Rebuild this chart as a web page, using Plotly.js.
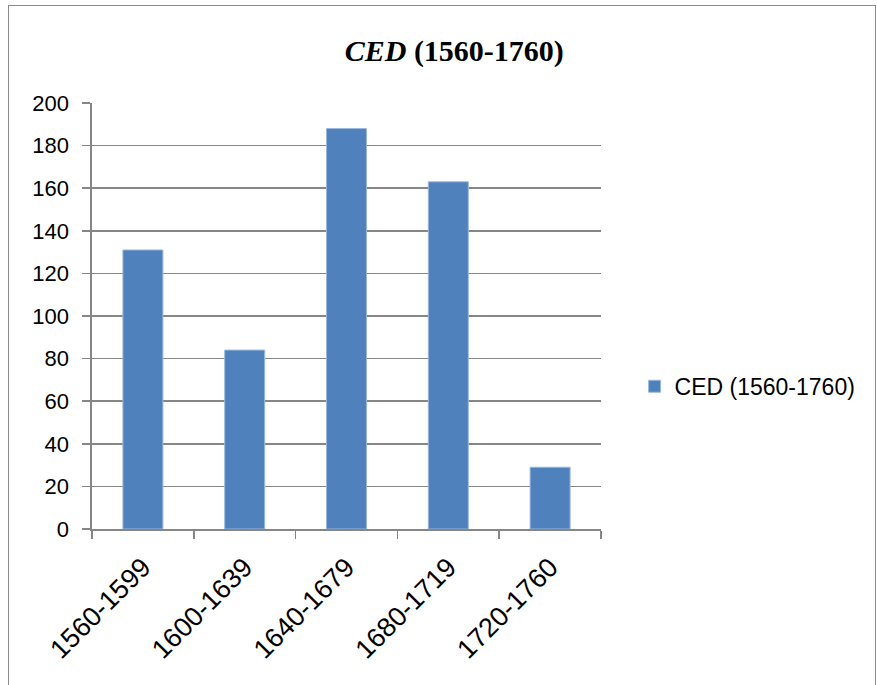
<!DOCTYPE html>
<html>
<head>
<meta charset="utf-8">
<script src="https://cdn.plot.ly/plotly-3.0.1.min.js"></script>
<style>
  html, body { margin: 0; padding: 0; background: #ffffff; }
  #frame { position: absolute; left: 8px; top: 5px; width: 868px; height: 700px; border: 1px solid #8c8c8c; box-sizing: border-box; }
  #chart { position: absolute; left: 0; top: 0; width: 877px; height: 685px; }
</style>
</head>
<body>
<div id="frame"></div>
<div id="chart"></div>
<script>
const categories = ["1560-1599", "1600-1639", "1640-1679", "1680-1719", "1720-1760"];
const seriesName = "CED (1560-1760)";
const values = [131, 84, 188, 163, 29];
const yTickValues = [0, 20, 40, 60, 80, 100, 120, 140, 160, 180, 200];

const axisGray = "#868686";
const sans = "Liberation Sans, Arial, sans-serif";

const trace = {
  type: "bar",
  x: categories,
  y: values,
  name: seriesName,
  marker: { color: "#4F81BD", line: { color: "#9bb8dc", width: 1 } },
  showlegend: true,
  hoverinfo: "x+y"
};

const layout = {
  width: 877,
  height: 685,
  margin: { l: 92, r: 276, t: 103, b: 156, pad: 0 },
  paper_bgcolor: "rgba(0,0,0,0)",
  plot_bgcolor: "rgba(0,0,0,0)",
  bargap: 0.607,
  title: {
    text: "<b><i>CED</i> (1560-1760)</b>",
    font: { family: "Liberation Serif, Times New Roman, serif", size: 30, color: "#000000" },
    x: 0.518, xanchor: "center",
    y: 0.927, yanchor: "middle"
  },
  xaxis: {
    type: "category",
    tickson: "boundaries",
    ticks: "outside",
    ticklen: 8,
    tickwidth: 1.6,
    tickcolor: axisGray,
    showline: true,
    linecolor: axisGray,
    linewidth: 1.6,
    showgrid: false,
    tickangle: -45,
    tickfont: { family: sans, size: 27, color: "#000000" },
    ticklabelstandoff: 10,
    fixedrange: true
  },
  yaxis: {
    range: [0, 200],
    tickvals: yTickValues,
    ticktext: yTickValues.map(String),
    ticks: "outside",
    ticklen: 8,
    tickwidth: 1.6,
    tickcolor: axisGray,
    showline: true,
    linecolor: axisGray,
    linewidth: 1.6,
    showgrid: true,
    gridcolor: axisGray,
    gridwidth: 1.6,
    zeroline: false,
    tickfont: { family: sans, size: 22, color: "#000000" },
    ticklabelstandoff: 9,
    fixedrange: true
  },
  legend: {
    x: 1.066, xanchor: "left",
    y: 0.335, yanchor: "middle",
    font: { family: sans, size: 23, color: "#000000" },
    bgcolor: "rgba(0,0,0,0)",
    itemwidth: 30
  }
};

Plotly.newPlot("chart", [trace], layout, { displayModeBar: false, staticPlot: true });
</script>
</body>
</html>
